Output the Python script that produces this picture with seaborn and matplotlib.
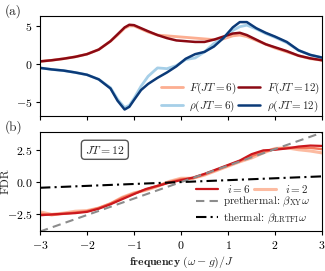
import numpy as np
import pandas as pd
import seaborn as sns
import matplotlib
matplotlib.use("Agg")
import matplotlib.pyplot as plt

# ---------------- data ----------------
freq_a = [-3, -2.75, -2.5, -2.25, -2, -1.75, -1.5, -1.35, -1.2, -1.1, -1.0, -0.85, -0.7,
          -0.5, -0.3, -0.1, 0.1, 0.3, 0.5, 0.7, 0.9, 1.1, 1.25, 1.4, 1.6, 1.8, 2.0,
          2.25, 2.5, 2.75, 3.0]
F_JT6 = [0.35, 0.5, 0.7, 0.95, 1.3, 1.9, 3.0, 3.8, 4.7, 5.0, 5.0, 4.6, 4.2,
         3.8, 3.7, 3.6, 3.5, 3.4, 3.3, 3.2, 3.3, 3.7, 3.8, 3.6, 3.1, 2.6, 2.1,
         1.6, 1.1, 0.7, 0.5]
F_JT12 = [0.35, 0.5, 0.7, 0.95, 1.3, 1.9, 3.0, 3.9, 4.8, 5.15, 5.1, 4.7, 4.3,
          3.8, 3.4, 3.1, 3.0, 2.9, 2.9, 3.2, 3.6, 4.0, 4.1, 3.8, 3.2, 2.6, 2.2,
          1.7, 1.1, 0.75, 0.5]
rho_JT6 = [-0.5, -0.7, -0.85, -1.1, -1.4, -2.0, -3.1, -4.6, -5.7, -5.4, -4.5, -2.9, -1.6,
           -0.5, -0.6, -0.2, 0.6, 0.8, 1.6, 2.7, 3.4, 4.4, 4.9, 5.1, 4.6, 4.0, 3.5,
           2.8, 1.8, 1.2, 0.85]
rho_JT12 = [-0.5, -0.7, -0.85, -1.1, -1.4, -2.0, -3.2, -4.8, -5.95, -5.6, -4.7, -3.4, -2.6,
            -1.8, -1.1, -0.3, 0.7, 1.3, 1.6, 2.3, 3.4, 4.8, 5.5, 5.5, 4.7, 4.1, 3.6,
            2.9, 1.8, 1.2, 0.85]

freq_b = [-3, -2.75, -2.5, -2.25, -2, -1.75, -1.5, -1.25, -1.0, -0.75, -0.5, -0.25, 0,
          0.25, 0.5, 0.75, 1.0, 1.25, 1.5, 1.75, 2.0, 2.25, 2.5, 2.75, 3.0]
fdr_i6 = [-2.62, -2.55, -2.5, -2.45, -2.35, -2.1, -1.75, -1.35, -0.95, -0.55, -0.3, -0.05, 0.15,
          0.35, 0.65, 1.0, 1.35, 1.7, 2.2, 2.5, 2.55, 2.65, 2.8, 2.88, 2.85]
fdr_i4 = [-2.5, -2.6, -2.5, -2.4, -2.3, -2.05, -1.7, -1.25, -0.9, -0.6, -0.3, 0.0, 0.22,
          0.3, 0.6, 0.95, 1.3, 1.65, 2.05, 2.4, 2.6, 2.7, 2.7, 2.7, 2.6]
fdr_i2 = [-2.35, -2.55, -2.45, -2.3, -2.25, -2.05, -1.7, -1.2, -0.85, -0.65, -0.35, 0.05, 0.3,
          0.3, 0.55, 0.9, 1.25, 1.6, 1.9, 2.3, 2.65, 2.7, 2.55, 2.45, 2.3]
beta_XY = 1.3
beta_LRTFI = 0.15
xticks = [-3, -2, -1, 0, 1, 2, 3]

# ---------------- style ----------------
sns.set_style("ticks")
plt.rcParams.update({
    "font.family": "serif",
    "font.serif": ["cmr10", "DejaVu Serif"],
    "mathtext.fontset": "cm",
    "axes.formatter.use_mathtext": True,
    "axes.unicode_minus": True,
    "font.size": 8.5,
    "xtick.labelsize": 8.5,
    "ytick.labelsize": 8.5,
    "axes.linewidth": 0.8,
    "xtick.major.size": 3,
    "ytick.major.size": 3,
    "xtick.major.pad": 2.5,
    "ytick.major.pad": 2.5,
    "xtick.color": "black",
    "ytick.color": "black",
    "axes.edgecolor": "black",
})

fig = plt.figure(figsize=(3.25, 2.71), dpi=100)
ax1 = fig.add_axes([0.123, 0.572, 0.868, 0.369])
ax2 = fig.add_axes([0.123, 0.148, 0.868, 0.365])

dfa = pd.DataFrame({"x": freq_a, "F6": F_JT6, "F12": F_JT12, "r6": rho_JT6, "r12": rho_JT12})
c_F6, c_r6, c_F12, c_r12 = "#fcae91", "#a6cfe8", "#8b0a14", "#0b3a78"
sns.lineplot(data=dfa, x="x", y="F6", ax=ax1, color=c_F6, lw=2, label=r"$F(JT=6)$")
sns.lineplot(data=dfa, x="x", y="r6", ax=ax1, color=c_r6, lw=2, label=r"$\rho(JT=6)$")
sns.lineplot(data=dfa, x="x", y="F12", ax=ax1, color=c_F12, lw=1.8, label=r"$F(JT=12)$")
sns.lineplot(data=dfa, x="x", y="r12", ax=ax1, color=c_r12, lw=1.8, label=r"$\rho(JT=12)$")
ax1.set_xlim(-3, 3)
ax1.set_ylim(-6.8, 6.3)
ax1.set_xticks(xticks)
ax1.set_xticklabels([])
ax1.set_yticks([-5, 0, 5])
ax1.set_xlabel("")
ax1.set_ylabel("")
ax1.legend(loc="lower right", ncol=2, frameon=False, fontsize=8, handlelength=2.0,
           handletextpad=0.6, columnspacing=0.1, labelspacing=0.25,
           borderaxespad=0.05, borderpad=0.15)

dfb = pd.DataFrame({"x": freq_b, "i6": fdr_i6, "i4": fdr_i4, "i2": fdr_i2})
xl = np.array([-3.0, 3.0])
dfl = pd.DataFrame({"x": xl, "pre": beta_XY * xl, "th": beta_LRTFI * xl})
sns.lineplot(data=dfb, x="x", y="i2", ax=ax2, color="#fcbba1", lw=2.2)
sns.lineplot(data=dfb, x="x", y="i4", ax=ax2, color="#f4765a", lw=1.8)
sns.lineplot(data=dfb, x="x", y="i6", ax=ax2, color="#cb181d", lw=1.6)
sns.lineplot(data=dfl, x="x", y="pre", ax=ax2, color="#8c8c8c", lw=1.5, ls=(0, (4, 2.5)))
sns.lineplot(data=dfl, x="x", y="th", ax=ax2, color="black", lw=1.5, ls=(0, (5, 2, 1, 2)))
lines = ax2.get_lines()
h_i2, h_i4, h_i6, h_pre, h_th = lines[0], lines[1], lines[2], lines[3], lines[4]
ax2.set_xlim(-3, 3)
ax2.set_ylim(-3.85, 3.95)
ax2.set_xticks(xticks)
ax2.set_yticks([-2.5, 0.0, 2.5])
ax2.set_ylabel("FDR", fontsize=8.5)
ax2.yaxis.set_label_coords(-0.105, 0.5)
ax2.set_xlabel(r"$\mathbf{frequency}\ (\omega - g)/J$", fontsize=8.5, labelpad=3)

leg1 = ax2.legend([h_i6, h_i2], [r"$i=6$", r"$i=2$"], ncol=2, frameon=False, fontsize=8,
                  loc="upper left", bbox_to_anchor=(0.53, 0.55), handlelength=2.0,
                  handletextpad=0.8, columnspacing=0.3, borderpad=0.1)
ax2.add_artist(leg1)
ax2.legend([h_pre, h_th], [r"prethermal: $\beta_{\mathrm{XY}}\omega$",
                           r"thermal: $\beta_{\mathrm{LRTFI}}\omega$"],
           frameon=False, fontsize=8, loc="upper left", bbox_to_anchor=(0.53, 0.43),
           handlelength=2.0, handletextpad=0.4, labelspacing=0.2, borderpad=0.1)

ax2.text(0.23, 0.82, r"$JT=12$", transform=ax2.transAxes, ha="center", va="center",
         fontsize=8.5, bbox=dict(boxstyle="round,pad=0.3", fc="white", ec="#555555", lw=1))

fig.text(0.015, 0.985, "(a)", ha="left", va="top", fontsize=9.5)
fig.text(0.015, 0.555, "(b)", ha="left", va="top", fontsize=9.5)

fig.savefig("out.png", dpi=100)
